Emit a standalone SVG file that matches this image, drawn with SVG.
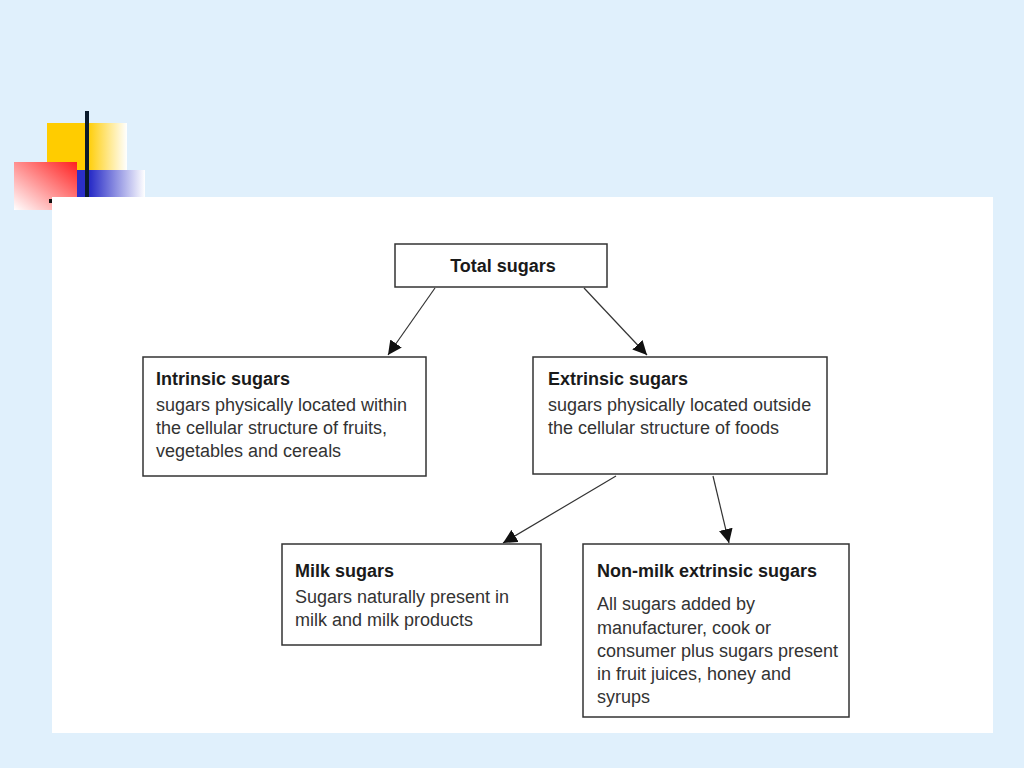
<svg xmlns="http://www.w3.org/2000/svg" width="1024" height="768" viewBox="0 0 1024 768">
<defs>
<linearGradient id="gy" x1="0" y1="0" x2="1" y2="0"><stop offset="0.5" stop-color="#FFCC00"/><stop offset="1" stop-color="#FFFFFF"/></linearGradient>
<linearGradient id="gr" x1="1" y1="0" x2="0" y2="1"><stop offset="0" stop-color="#FF2020"/><stop offset="1" stop-color="#FFFFFF"/></linearGradient>
<linearGradient id="gb" x1="0" y1="0" x2="1" y2="0"><stop offset="0.2" stop-color="#2B2FC8"/><stop offset="1" stop-color="#FFFFFF"/></linearGradient>
<marker id="ah" viewBox="0 0 10 10" refX="10" refY="5" markerWidth="14" markerHeight="14" markerUnits="userSpaceOnUse" orient="auto"><path d="M0,0 L10,5 L0,10 z" fill="#111"/></marker>
<style>
.box{fill:#fff;stroke:#333;stroke-width:1.5}
.t{font-family:"Liberation Sans",Arial,sans-serif;font-size:18px;font-weight:bold;fill:#1a1a1a}
.b{font-family:"Liberation Sans",Arial,sans-serif;font-size:18px;fill:#333}
.c{stroke:#333;stroke-width:1.2;fill:none;marker-end:url(#ah)}
</style>
</defs>
<rect x="0" y="0" width="1024" height="768" fill="#E0F0FC"/>
<g id="decoration">
<rect x="47" y="123" width="80" height="74" fill="url(#gy)"/>
<rect x="14" y="162" width="63" height="48" fill="url(#gr)"/>
<rect x="77" y="170" width="68" height="27" fill="url(#gb)"/>
<rect x="85" y="111" width="4" height="86" fill="#0A1A2A"/>
</g>
<rect x="52" y="197" width="941" height="536" fill="#FFFFFF"/>
<rect x="49" y="199" width="3" height="4" fill="#111"/>
<g id="connectors">
<line class="c" x1="435" y1="288" x2="388" y2="355"/>
<line class="c" x1="584" y1="288" x2="647" y2="355"/>
<line class="c" x1="616" y1="476" x2="503" y2="543"/>
<line class="c" x1="713" y1="476" x2="729" y2="543"/>
</g>
<g id="total">
<rect class="box" x="395" y="244" width="212" height="43"/>
<text class="t" x="503" y="272" text-anchor="middle">Total sugars</text>
</g>
<g id="intrinsic">
<rect class="box" x="143" y="357" width="283" height="119"/>
<text class="t" x="156" y="385">Intrinsic sugars</text>
<text class="b" x="156" y="411">sugars physically located within</text>
<text class="b" x="156" y="434">the cellular structure of fruits,</text>
<text class="b" x="156" y="457">vegetables and cereals</text>
</g>
<g id="extrinsic">
<rect class="box" x="533" y="357" width="294" height="117"/>
<text class="t" x="548" y="385">Extrinsic sugars</text>
<text class="b" x="548" y="411">sugars physically located outside</text>
<text class="b" x="548" y="434">the cellular structure of foods</text>
</g>
<g id="milk">
<rect class="box" x="282" y="544" width="259" height="101"/>
<text class="t" x="295" y="577">Milk sugars</text>
<text class="b" x="295" y="603">Sugars naturally present in</text>
<text class="b" x="295" y="626">milk and milk products</text>
</g>
<g id="nonmilk">
<rect class="box" x="583" y="544" width="266" height="173"/>
<text class="t" x="597" y="577">Non-milk extrinsic sugars</text>
<text class="b" x="597" y="610">All sugars added by</text>
<text class="b" x="597" y="634">manufacturer, cook or</text>
<text class="b" x="597" y="657">consumer plus sugars present</text>
<text class="b" x="597" y="680">in fruit juices, honey and</text>
<text class="b" x="597" y="703">syrups</text>
</g>
</svg>
